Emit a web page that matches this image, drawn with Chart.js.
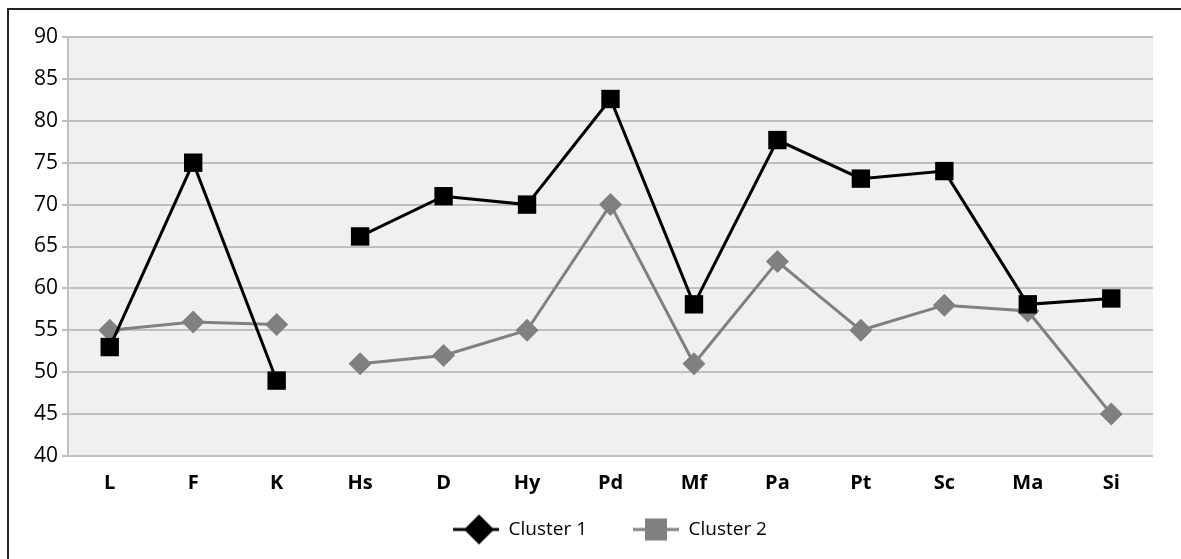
<!DOCTYPE html>
<html>
<head>
<meta charset="utf-8">
<script src="https://cdn.jsdelivr.net/npm/chart.js@4/dist/chart.umd.min.js"></script>
<style>
  body { margin: 0; background: #fff; width: 1181px; height: 559px; overflow: hidden; }
  #frame {
    position: absolute; left: 7px; top: 8px;
    width: 1180px; height: 560px;
    border-left: 2px solid #222; border-top: 2px solid #222;
  }
  #wrap { position: absolute; left: 0; top: 0; width: 1172px; height: 549px; }
</style>
</head>
<body>
<div id="frame"><div id="wrap"><canvas id="chart"></canvas></div></div>
<script>
const categories = ['L', 'F', 'K', 'Hs', 'D', 'Hy', 'Pd', 'Mf', 'Pa', 'Pt', 'Sc', 'Ma', 'Si'];
const cluster1 = [53, 75, 49, 66.2, 71, 70, 82.6, 58.1, 77.7, 73.1, 74, 58.1, 58.8];
const cluster2 = [55, 56, 55.7, 51, 52, 55, 70, 51, 63.2, 55, 58, 57.3, 45];
const yTicks = [40, 45, 50, 55, 60, 65, 70, 75, 80, 85, 90];

const FONT = "'Open Sans', 'Noto Sans', sans-serif";

// legend marker images: line with the (swapped) marker, like the original.
// 26px blank on the left gives the wide gap between the two items
function legendIcon(color, shape) {
  const c = document.createElement('canvas');
  c.width = 72; c.height = 32;
  const g = c.getContext('2d');
  g.strokeStyle = color;
  g.lineWidth = 3;
  g.beginPath(); g.moveTo(26, 16); g.lineTo(72, 16); g.stroke();
  g.fillStyle = color;
  g.beginPath();
  if (shape === 'diamond') {
    g.moveTo(52, 1); g.lineTo(67, 16); g.lineTo(52, 31); g.lineTo(37, 16);
  } else {
    g.rect(38, 5, 22, 22);
  }
  g.closePath(); g.fill();
  return c;
}

const plotBg = {
  id: 'plotBg',
  beforeDraw(chart) {
    const { ctx, chartArea } = chart;
    ctx.save();
    ctx.fillStyle = '#f0f0f0';
    ctx.fillRect(chartArea.left, chartArea.top, chartArea.right - chartArea.left, chartArea.bottom - chartArea.top);
    ctx.restore();
  }
};

// legend sits a bit right of centre in the original
const legendShift = {
  id: 'legendShift',
  afterLayout(chart) {
    chart.legend.left += 16;
    chart.legend.right += 16;
  }
};

const gapAfterK = (color) => (c) => c.p0DataIndex === 2 ? 'rgba(0,0,0,0)' : color;

const ctx = document.getElementById('chart').getContext('2d');
const chart = new Chart(ctx, {
  type: 'line',
  data: {
    labels: categories,
    datasets: [{
      label: 'Cluster 1',
      data: cluster1,
      borderColor: '#000',
      backgroundColor: '#000',
      borderWidth: 3,
      pointStyle: 'rect',
      pointRadius: 13,
      pointBorderWidth: 0,
      tension: 0,
      segment: { borderColor: gapAfterK('#000') }
    }, {
      label: 'Cluster 2',
      data: cluster2,
      borderColor: '#808080',
      backgroundColor: '#808080',
      borderWidth: 3,
      pointStyle: 'rectRot',
      pointRadius: 11.5,
      pointBorderWidth: 0,
      tension: 0,
      segment: { borderColor: gapAfterK('#808080') }
    }]
  },
  options: {
    responsive: true,
    maintainAspectRatio: false,
    animation: false,
    layout: { padding: { top: 27, right: 28, bottom: 10, left: 0 } },
    scales: {
      x: {
        offset: true,
        grid: { display: false },
        border: { display: false },
        ticks: { color: '#000', font: { family: FONT, size: 20, weight: 'bold' }, padding: 7 },
        afterFit: (s) => { s.height = 44; }
      },
      y: {
        min: 40,
        max: 90,
        afterBuildTicks: (s) => { s.ticks = yTicks.map(v => ({ value: v })); },
        grid: { color: '#bfbfbf', lineWidth: 2, tickLength: 6, tickColor: '#bfbfbf' },
        border: { display: true, color: '#bfbfbf', width: 2 },
        ticks: { color: '#000', font: { family: FONT, size: 21 }, padding: 4 },
        afterFit: (s) => { s.width = 59; }
      }
    },
    plugins: {
      tooltip: { enabled: false },
      legend: {
        position: 'bottom',
        labels: {
          color: '#000',
          font: { family: FONT, size: 19 },
          usePointStyle: true,
          pointStyleWidth: 72,
          padding: 20,
          generateLabels: () => [
            { text: 'Cluster 1', pointStyle: legendIcon('#000', 'diamond'), fillStyle: '#000', strokeStyle: '#000', lineWidth: 0, datasetIndex: 0 },
            { text: 'Cluster 2', pointStyle: legendIcon('#808080', 'square'), fillStyle: '#808080', strokeStyle: '#808080', lineWidth: 0, datasetIndex: 1 }
          ]
        }
      }
    }
  },
  plugins: [plotBg, legendShift]
});
</script>
</body>
</html>
